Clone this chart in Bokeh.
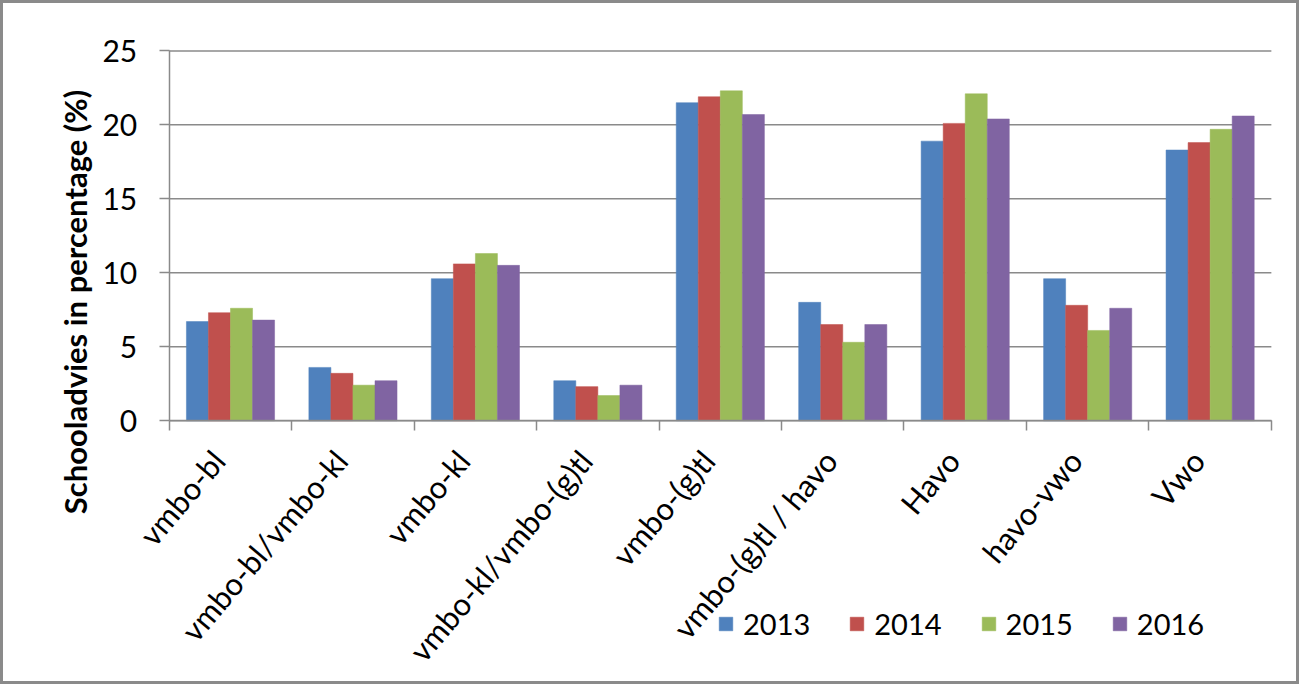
from math import pi
import numpy as np
from bokeh.plotting import figure
from bokeh.models import ColumnDataSource, FixedTicker, Range1d, LinearAxis
from bokeh.transform import dodge
from bokeh.embed import file_html
from bokeh.resources import INLINE

categories = ["vmbo-bl", "vmbo-bl/vmbo-kl", "vmbo-kl", "vmbo-kl/vmbo-(g)tl",
              "vmbo-(g)tl", "vmbo-(g)tl / havo", "Havo", "havo-vwo", "Vwo"]
years = ["2013", "2014", "2015", "2016"]
v2013 = [6.7, 3.6, 9.6, 2.7, 21.5, 8.0, 18.9, 9.6, 18.3]
v2014 = [7.3, 3.2, 10.6, 2.3, 21.9, 6.5, 20.1, 7.8, 18.8]
v2015 = [7.6, 2.4, 11.3, 1.7, 22.3, 5.3, 22.1, 6.1, 19.7]
v2016 = [6.8, 2.7, 10.5, 2.4, 20.7, 6.5, 20.4, 7.6, 20.6]
y_ticks = [0, 5, 10, 15, 20, 25]

colors = ["#4F81BD", "#C0504D", "#9BBB59", "#8064A2"]
FONT = "Lato"
GRAY = "#8a8a8a"

n = len(categories)
centers = list(np.arange(n) + 0.5)
label_pos = [round(c - 0.1, 2) for c in centers]
src = ColumnDataSource(dict(x=centers, y2013=v2013, y2014=v2014, y2015=v2015, y2016=v2016))

# The frame fills the whole canvas; axes are pinned at x=0 / y=0 inside it,
# so the rotated labels and the legend below the plot area are not clipped.
p = figure(width=1293, height=678, output_backend="svg", toolbar_location=None,
           x_range=Range1d(-1.3537, n + 0.2543), y_range=Range1d(-18.042, 28.206),
           min_border_left=0, min_border_right=0, min_border_top=0, min_border_bottom=0)
p.outline_line_color = None
p.background_fill_color = "white"
p.border_fill_color = "white"
p.styles = {"border": "3px solid " + GRAY, "box-sizing": "content-box"}

# horizontal grid lines across the plot area only
p.segment(x0=[0] * len(y_ticks), x1=[n] * len(y_ticks), y0=y_ticks, y1=y_ticks,
          line_color=GRAY, line_width=1.5)

offsets = [-0.27, -0.09, 0.09, 0.27]
cols = ["y2013", "y2014", "y2015", "y2016"]
for off, col, c, yr in zip(offsets, cols, colors, years):
    p.vbar(x=dodge("x", off), top=col, width=0.18, source=src, fill_color=c,
           line_color=c, line_width=0.5, legend_label=yr)

p.xgrid.grid_line_color = None
p.ygrid.grid_line_color = None

# y axis
ya = p.yaxis[0]
ya.fixed_location = 0
ya.ticker = FixedTicker(ticks=y_ticks)
ya.bounds = (0, 25)
ya.major_label_text_font = FONT
ya.major_label_text_font_size = "30px"
ya.major_label_text_color = "black"
ya.major_label_standoff = 22
ya.major_tick_out = 10
ya.major_tick_in = 0
ya.minor_tick_line_color = None
ya.axis_line_color = GRAY
ya.axis_line_width = 1.5
ya.major_tick_line_color = GRAY
ya.major_tick_line_width = 1.5

# separate axis carrying only the title, centred like the reference
ta = LinearAxis(ticker=FixedTicker(ticks=[]), bounds=(-8.98, 25),
                axis_label="Schooladvies in percentage (%)")
ta.fixed_location = 0
ta.axis_line_color = None
ta.major_tick_line_color = None
ta.minor_tick_line_color = None
ta.major_tick_out = 0
ta.major_label_standoff = 0
ta.axis_label_standoff = 76
ta.axis_label_text_font = FONT
ta.axis_label_text_font_style = "bold"
ta.axis_label_text_font_size = "31px"
ta.axis_label_text_color = "black"
p.add_layout(ta, "left")

# x axis at y=0: labels near centres, ticks at category boundaries
xa = p.xaxis[0]
xa.fixed_location = 0
xa.bounds = (0, n)
xa.ticker = FixedTicker(ticks=label_pos, minor_ticks=list(range(n + 1)))
xa.major_label_overrides = {lp: lab for lp, lab in zip(label_pos, categories)}
xa.major_label_orientation = 0.87
xa.major_label_text_font = FONT
xa.major_label_text_font_size = "31px"
xa.major_label_text_color = "black"
xa.major_label_standoff = 24
xa.major_tick_line_color = None
xa.major_tick_out = 0
xa.major_tick_in = 0
xa.minor_tick_out = 10
xa.minor_tick_in = 0
xa.minor_tick_line_color = GRAY
xa.minor_tick_line_width = 1.5
xa.axis_line_color = GRAY
xa.axis_line_width = 1.5

leg = p.legend[0]
leg.orientation = "horizontal"
leg.location = (714, 46)
leg.label_text_font = FONT
leg.label_text_font_size = "29px"
leg.label_text_color = "black"
leg.glyph_width = 17
leg.glyph_height = 17
leg.label_standoff = 9
leg.spacing = 38
leg.padding = 0
leg.margin = 0
leg.border_line_color = None
leg.background_fill_alpha = 0

open("out.html", "w").write(file_html(p, INLINE))
